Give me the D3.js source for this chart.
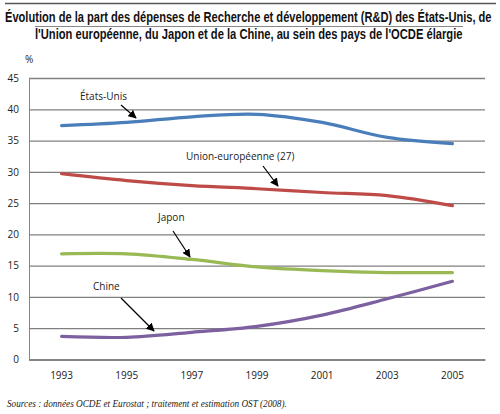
<!DOCTYPE html>
<html><head><meta charset="utf-8">
<script src="https://cdn.jsdelivr.net/npm/d3@7"></script>
<style>body{margin:0;background:#fff}svg{display:block}</style>
</head><body>
<svg id="c" width="500" height="414"></svg>
<script>
const years = ["1993","1995","1997","1999","2001","2003","2005"];
const etatsUnis = [37.4, 37.9, 38.8, 39.2, 37.9, 35.5, 34.5];
const unionEuropeenne = [29.7, 28.6, 27.8, 27.3, 26.7, 26.2, 24.6];
const japon = [16.9, 16.9, 16.0, 14.8, 14.2, 13.9, 13.9];
const chine = [3.7, 3.55, 4.35, 5.3, 7.1, 9.7, 12.5];
const yTicks = [0, 5, 10, 15, 20, 25, 30, 35, 40, 45];
const seriesNames = ["États-Unis", "Union-européenne (27)", "Japon", "Chine"];
const seriesColors = ["#4a7ebb", "#be4b48", "#98b954", "#7d60a0"];
const titleLines = ["Évolution de la part des dépenses de Recherche et développement (R&D) des États-Unis, de",
                    "l'Union européenne, du Japon et de la Chine, au sein des pays de l'OCDE élargie"];
const sourceText = "Sources : données OCDE et Eurostat ; traitement et estimation OST (2008).";

const svg = d3.select("#c");
const m = {left: 29, right: 485, top: 78, bottom: 359.5};
const x = d3.scaleBand().domain(years).range([m.left, m.right]);
const xc = d => x(d) + x.bandwidth() / 2;
const y = d3.scaleLinear().domain([0, 45]).range([m.bottom, m.top]);

// fit text horizontally with a scale transform
function fitText(sel, x0, y0, width) {
  const len = sel.node().getComputedTextLength();
  const k = width / len;
  sel.attr("x", 0).attr("y", 0).attr("transform", `translate(${x0},${y0}) scale(${k},1)`);
}

// title rules
svg.append("line").attr("x1", 5).attr("x2", 496).attr("y1", 3.5).attr("y2", 3.5).attr("stroke", "#555").attr("stroke-width", 1.5);
svg.append("line").attr("x1", 35).attr("x2", 463).attr("y1", 26.5).attr("y2", 26.5).attr("stroke", "#888").attr("stroke-width", 1);

const t1 = svg.append("text").attr("font-family", "'Liberation Sans Narrow','Liberation Sans',Arial").attr("font-weight", "bold").attr("font-size", 14).attr("fill", "#111").text(titleLines[0]);
fitText(t1, 5, 22, 487);
const t2 = svg.append("text").attr("font-family", "'Liberation Sans Narrow','Liberation Sans',Arial").attr("font-weight", "bold").attr("font-size", 14).attr("fill", "#111").text(titleLines[1]);
fitText(t2, 35, 39, 428);

// grid
const gy = svg.append("g").attr("transform", `translate(${m.left},0)`)
  .call(d3.axisLeft(y).tickValues(yTicks).tickSize(-(m.right - m.left)).tickPadding(10));
gy.select(".domain").attr("stroke", "#868686");
gy.selectAll(".tick line").attr("stroke", "#808080").attr("stroke-width", 1.3);
gy.selectAll(".tick text").attr("font-family", "'Open Sans',Arial").attr("font-size", 10).attr("fill", "#222");

const gx = svg.append("g").attr("transform", `translate(0,${m.bottom})`)
  .call(d3.axisBottom(x).tickSize(0).tickPadding(12));
gx.select(".domain").attr("stroke", "#808080").attr("stroke-width", 1.3);
gx.selectAll(".tick text").attr("font-family", "'Open Sans',Arial").attr("font-size", 10).attr("fill", "#222");

svg.append("text").attr("x", 25).attr("y", 63).attr("font-family", "'Open Sans',Arial").attr("font-size", 10).attr("fill", "#222").text("%");

// lines
const allSeries = [etatsUnis, unionEuropeenne, japon, chine];
const line = d3.line().x((d, i) => xc(years[i])).y(d => y(d)).curve(d3.curveCatmullRom.alpha(0.5));
allSeries.forEach((s, i) => {
  svg.append("path").attr("d", line(s)).attr("fill", "none").attr("stroke", seriesColors[i])
    .attr("stroke-width", 3.2).attr("stroke-linecap", "round");
});

// annotations
svg.append("defs").append("marker").attr("id", "ah").attr("viewBox", "0 0 10 10").attr("refX", 9).attr("refY", 5)
  .attr("markerWidth", 7).attr("markerHeight", 7).attr("orient", "auto-start-reverse")
  .append("path").attr("d", "M0,0 L10,5 L0,10 z").attr("fill", "#000");

const labels = [
  {t: seriesNames[0], tx: 80, ty: 100, ax1: 121, ay1: 105, ax2: 136, ay2: 118},
  {t: seriesNames[1], tx: 186, ty: 160, ax1: 263, ay1: 166, ax2: 278, ay2: 186},
  {t: seriesNames[2], tx: 158, ty: 221, ax1: 173, ay1: 231, ax2: 190, ay2: 257},
  {t: seriesNames[3], tx: 93, ty: 290, ax1: 121, ay1: 298, ax2: 154, ay2: 331}
];
labels.forEach(l => {
  svg.append("text").attr("x", l.tx).attr("y", l.ty).attr("font-family", "'Open Sans',Arial").attr("font-size", 10).attr("fill", "#222").text(l.t);
  svg.append("line").attr("x1", l.ax1).attr("y1", l.ay1).attr("x2", l.ax2).attr("y2", l.ay2)
    .attr("stroke", "#000").attr("stroke-width", 1.2).attr("marker-end", "url(#ah)");
});

const st = svg.append("text").attr("font-family", "'Liberation Serif','DejaVu Serif',serif").attr("font-style", "italic").attr("font-size", 9.5).attr("fill", "#222").text(sourceText);
fitText(st, 7, 407, 280);
</script>
</body></html>
